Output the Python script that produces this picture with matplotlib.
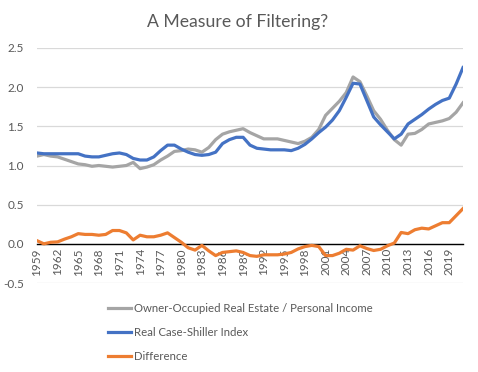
import matplotlib
matplotlib.use("Agg")
import matplotlib.pyplot as plt
from matplotlib.lines import Line2D

years = list(range(1959, 2022))

owner_occupied = [1.12, 1.14, 1.12, 1.11, 1.08, 1.05, 1.02, 1.01, 0.99, 1.00,
                  0.99, 0.98, 0.99, 1.00, 1.04, 0.96, 0.98, 1.01, 1.07, 1.12,
                  1.18, 1.19, 1.21, 1.20, 1.17, 1.23, 1.33, 1.40, 1.43, 1.45,
                  1.47, 1.42, 1.38, 1.34, 1.34, 1.34, 1.32, 1.30, 1.28, 1.31,
                  1.36, 1.46, 1.64, 1.73, 1.82, 1.93, 2.13, 2.07, 1.89, 1.70,
                  1.59, 1.45, 1.33, 1.26, 1.40, 1.41, 1.46, 1.53, 1.55, 1.57,
                  1.60, 1.68, 1.80]

case_shiller = [1.16, 1.15, 1.15, 1.15, 1.15, 1.15, 1.15, 1.12, 1.11, 1.11,
                1.13, 1.15, 1.16, 1.14, 1.09, 1.07, 1.07, 1.11, 1.19, 1.26,
                1.26, 1.21, 1.17, 1.14, 1.13, 1.14, 1.17, 1.28, 1.33, 1.36,
                1.36, 1.26, 1.22, 1.21, 1.20, 1.20, 1.20, 1.19, 1.22, 1.27,
                1.34, 1.42, 1.49, 1.58, 1.70, 1.87, 2.05, 2.04, 1.83, 1.62,
                1.52, 1.43, 1.34, 1.40, 1.53, 1.59, 1.65, 1.72, 1.78, 1.83,
                1.86, 2.04, 2.25]

difference = [0.04, 0.00, 0.02, 0.025, 0.06, 0.09, 0.13, 0.12, 0.12, 0.11,
              0.12, 0.17, 0.17, 0.14, 0.05, 0.11, 0.09, 0.09, 0.11, 0.14,
              0.08, 0.02, -0.05, -0.08, -0.02, -0.09, -0.15, -0.11, -0.10, -0.09,
              -0.11, -0.15, -0.16, -0.14, -0.14, -0.14, -0.13, -0.11, -0.065, -0.035,
              -0.02, -0.035, -0.15, -0.15, -0.12, -0.07, -0.08, -0.025, -0.06, -0.085,
              -0.07, -0.025, 0.01, 0.145, 0.13, 0.18, 0.20, 0.19, 0.23, 0.27,
              0.27, 0.36, 0.45]

series_names = ["Owner-Occupied Real Estate / Personal Income",
                "Real Case-Shiller Index",
                "Difference"]
colors = ["#A5A5A5", "#4472C4", "#ED7D31"]
yticks = [-0.5, 0.0, 0.5, 1.0, 1.5, 2.0, 2.5]
xtick_years = years[::3]

plt.rcParams['font.family'] = ['Lato', 'DejaVu Sans']
text_color = "#595959"

fig = plt.figure(figsize=(4.78, 3.72), dpi=100)
ax = fig.add_axes([37/478, 1-283/372, (463-37)/478, (283-48)/372])

for s in ['top', 'right', 'left']:
    ax.spines[s].set_visible(False)
ax.spines['bottom'].set_position(('data', 0))
ax.spines['bottom'].set_color('black')
ax.spines['bottom'].set_linewidth(1.0)
ax.spines['bottom'].set_zorder(2)

for vals, c in zip([owner_occupied, case_shiller, difference], colors):
    ax.plot(years, vals, color=c, lw=2.3, solid_joinstyle='round', zorder=3)

ax.set_xlim(years[0], years[-1])
ax.set_ylim(-0.5, 2.5)
ax.set_yticks(yticks)
ax.set_yticklabels([f"{v:.1f}" for v in yticks])
ax.yaxis.grid(True, color="#D9D9D9", lw=0.9, zorder=0)
ax.set_axisbelow(True)
ax.tick_params(axis='y', length=0, pad=9.5, labelcolor=text_color, labelsize=8.5)

ax.set_xticks(xtick_years)
ax.set_xticklabels([str(y) for y in xtick_years])
ax.tick_params(axis='x', length=0, pad=3, labelrotation=90, labelcolor=text_color, labelsize=8.5)

fig.text(238/478, 1-22/372, "A Measure of Filtering?", ha='center', va='center',
         fontsize=12.7, color=text_color)

handles = [Line2D([0], [0], color=c, lw=2.3) for c in colors]
fig.legend(handles, series_names, loc='upper left', bbox_to_anchor=(108/478, 1-303/372),
           frameon=False, fontsize=8.2, labelcolor=text_color, handlelength=2.0,
           handletextpad=0.25, labelspacing=1.12, borderaxespad=0, borderpad=0)

fig.savefig("out.png", dpi=100)
